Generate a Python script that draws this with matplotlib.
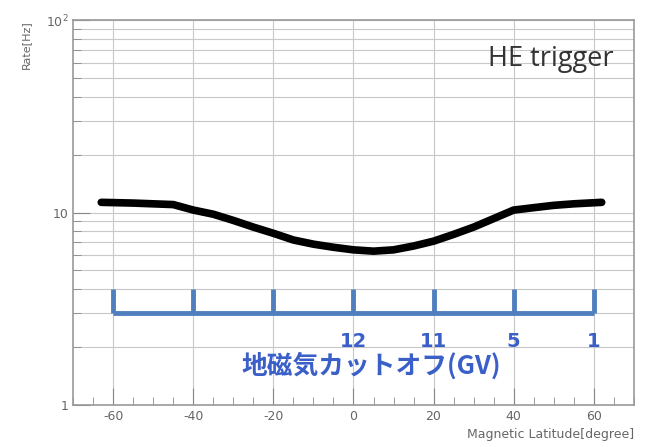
import matplotlib
matplotlib.use('Agg')
import matplotlib.pyplot as plt
from matplotlib.ticker import LogLocator, FixedLocator, MultipleLocator, FuncFormatter

plt.rcParams['axes.unicode_minus'] = False

# Rate curve (degree, Hz)
latitude = [-63, -55, -50, -45, -40, -35, -30, -25, -20, -15, -10, -5, 0,
            5, 10, 15, 20, 25, 30, 35, 40, 45, 50, 55, 62]
rate = [11.3, 11.2, 11.1, 11.0, 10.3, 9.8, 9.1, 8.4, 7.8, 7.2, 6.85, 6.6, 6.4,
        6.3, 6.4, 6.7, 7.1, 7.7, 8.4, 9.3, 10.3, 10.6, 10.9, 11.1, 11.3]

# geomagnetic cutoff bracket
bracket_lat = [-60, -40, -20, 0, 20, 40, 60]
cutoff_lat = [0, 20, 40, 60]
cutoff_labels = ['12', '11', '5', '1']

fig = plt.figure(figsize=(6.54, 4.47), dpi=100)
ax = fig.add_axes([0.112, 0.094, 0.857, 0.861])

ax.set_yscale('log')
ax.set_xlim(-70, 70)
ax.set_ylim(1, 100)

grid_c = '#c8c8c8'
ax.xaxis.set_major_locator(MultipleLocator(20))
ax.xaxis.set_minor_locator(MultipleLocator(5))
ax.yaxis.set_major_locator(FixedLocator([1, 10, 100]))
ax.yaxis.set_minor_locator(LogLocator(base=10, subs=range(2, 10)))
ax.grid(True, which='major', color=grid_c, lw=0.8)
ax.grid(True, which='minor', axis='y', color=grid_c, lw=0.8)
ax.set_axisbelow(True)

def ylab(v, pos):
    return {1: '1', 10: '10', 100: '$10^2$'}.get(int(round(v)), '')
ax.yaxis.set_major_formatter(FuncFormatter(ylab))

ax.tick_params(which='both', direction='in', colors='#888888', labelcolor='#666666',
               labelsize=9)
ax.tick_params(which='major', length=12)
ax.tick_params(which='minor', length=6)
for s in ax.spines.values():
    s.set_color('#999999')
    s.set_linewidth(1.2)

ax.plot(latitude, rate, color='black', lw=5.5, solid_capstyle='round')

blue = '#4f7fbf'
ax.hlines(3.0, bracket_lat[0], bracket_lat[-1], color=blue, lw=3.5)
ax.vlines(bracket_lat, 3.0, 4.0, color=blue, lw=3.5)
for x, t in zip(cutoff_lat, cutoff_labels):
    ax.text(x, 2.15, t, color='#3b5fc8', fontsize=14, fontweight='bold',
            ha='center', va='center')
ax.text(4.5, 1.6, '地磁気カットオフ(GV)', color='#3b5fc8', fontsize=18.5,
        fontweight='bold', ha='center', va='center',
        family=['Noto Sans CJK JP', 'DejaVu Sans'])

ax.text(0.965, 0.9, 'HE trigger', transform=ax.transAxes, ha='right', va='center',
        fontsize=19.5, color='#333333', family='Open Sans')

ax.text(-0.085, 1.0, 'Rate[Hz]', transform=ax.transAxes, rotation=90,
        ha='center', va='top', fontsize=8, color='#666666')
ax.text(1.0, -0.06, 'Magnetic Latitude[degree]', transform=ax.transAxes,
        ha='right', va='top', fontsize=9, color='#666666')

fig.savefig('out.png', dpi=100)
